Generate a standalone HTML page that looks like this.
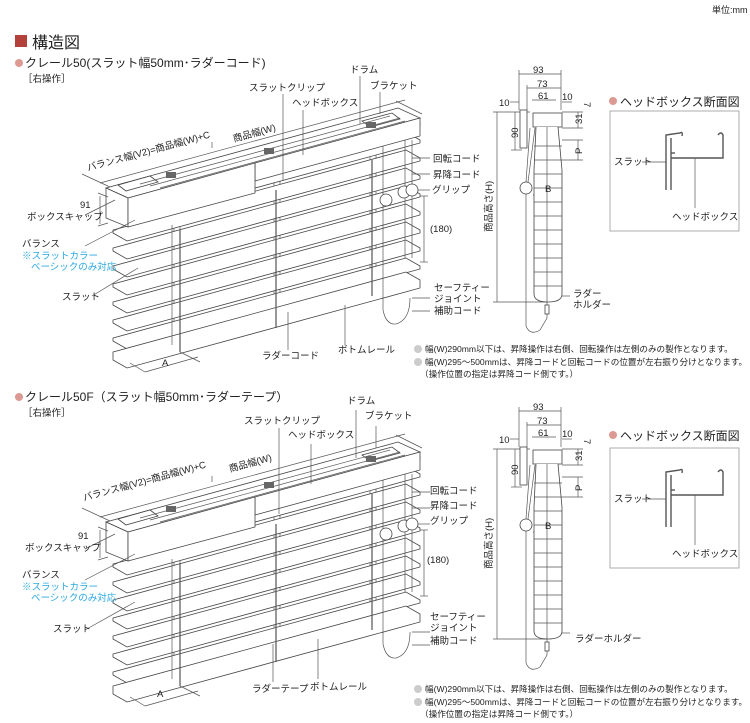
<!DOCTYPE html>
<html><head><meta charset="utf-8"><style>
body{margin:0;background:#fff;}
svg{display:block;font-family:"Liberation Sans","Noto Sans CJK JP",sans-serif;}
.t{font-size:9.5px;fill:#222}
.n{font-size:8.6px;fill:#222}
.s{fill:#fff;stroke:#444;stroke-width:0.8}
.l{stroke:#555;stroke-width:0.7;fill:none}
</style></head><body>
<svg width="750" height="723" viewBox="0 0 750 723" xmlns="http://www.w3.org/2000/svg">
<defs>
<g id="blind">
 <g class="l">
  <line x1="174" y1="215" x2="174" y2="345"/><line x1="180" y1="215" x2="180" y2="352"/>
  <line x1="274" y1="180" x2="274" y2="320"/><line x1="280" y1="180" x2="280" y2="326"/>
  <line x1="370" y1="150" x2="370" y2="290"/><line x1="376" y1="150" x2="376" y2="296"/>
 </g>
 <g class="s">
  <polygon points="113,194 406,114 420,122 420,125 127,205 113,197"/>
  <polygon points="113,212 406,132 420,140 420,143 127,223 113,215"/>
  <polygon points="113,230 406,150 420,158 420,161 127,241 113,233"/>
  <polygon points="113,248 406,168 420,176 420,179 127,259 113,251"/>
  <polygon points="113,266 406,186 420,194 420,197 127,277 113,269"/>
  <polygon points="113,284 406,204 420,212 420,215 127,295 113,287"/>
  <polygon points="113,302 406,222 420,230 420,233 127,313 113,305"/>
  <polygon points="113,320 406,240 420,248 420,251 127,331 113,323"/>
  <polygon points="113,338 406,258 420,266 420,269 127,349 113,341"/>
  <polygon points="113,352 406,272 420,280 420,288 127,368 113,360"/>
 </g>
 <g class="l" stroke="#444">
  <line x1="180" y1="230" x2="180" y2="352" stroke-width="1.2"/>
  <line x1="276" y1="190" x2="276" y2="328" stroke-width="1.2"/>
  <line x1="372" y1="160" x2="372" y2="296" stroke-width="1.2"/>
  <line x1="172" y1="225" x2="172" y2="345"/>
  <line x1="383" y1="140" x2="383" y2="310"/>
  <line x1="405" y1="140" x2="405" y2="258"/><line x1="412" y1="140" x2="412" y2="258"/>
  <path d="M383,310 Q386,325 396,324 Q410,320 410,298"/>
 </g>
 <circle cx="386" cy="200" r="6" class="s"/>
 <circle cx="404" cy="192" r="6" class="s"/>
 <circle cx="412" cy="190" r="6" class="s"/>
 <g class="s">
  <polygon points="106,188 398,108 420,118 128,198"/>
  <polygon points="255,163 420,118 420,136 255,181"/>
  <polygon points="106,188 128,198 128,227 106,218"/>
  <polygon points="128,198 255,163 255,193 128,227"/>
  <polygon points="118,185 150,176 158,182 126,191"/>
  <polygon points="362,121 392,113 400,119 370,127"/>
 </g>
 <g class="l"><line x1="140" y1="184" x2="390" y2="116"/><line x1="150" y1="186" x2="400" y2="118"/><line x1="160" y1="188" x2="405" y2="121"/></g>
 <rect x="166" y="172" width="10" height="6" fill="#666"/>
 <rect x="264" y="148" width="10" height="6" fill="#666"/>
 <rect x="366" y="122" width="10" height="6" fill="#666"/>
 <g class="l">
  <line x1="100" y1="183" x2="405" y2="100"/>
  <line x1="82" y1="174" x2="110" y2="187"/><line x1="212" y1="142" x2="212" y2="148"/>
  <line x1="396" y1="101" x2="422" y2="114"/>
  <line x1="98" y1="193" x2="108" y2="197"/><line x1="98" y1="226" x2="108" y2="223"/>
  <line x1="100" y1="196" x2="100" y2="224"/>
  <line x1="424" y1="196" x2="424" y2="262"/>
  <line x1="420" y1="196" x2="428" y2="196"/><line x1="420" y1="262" x2="428" y2="262"/>
  <line x1="130" y1="363" x2="145" y2="372"/><line x1="145" y1="372" x2="198" y2="357"/><line x1="180" y1="352" x2="200" y2="362"/>
 </g>
</g>
<g id="side">
 <g class="l">
  <line x1="519" y1="74" x2="561" y2="74"/><line x1="519" y1="70" x2="519" y2="110"/><line x1="561" y1="70" x2="561" y2="110"/>
  <line x1="527" y1="88" x2="561" y2="88"/><line x1="527" y1="85" x2="527" y2="110"/>
  <line x1="532" y1="100" x2="556" y2="100"/><line x1="510" y1="102" x2="519" y2="102"/><line x1="562" y1="102" x2="572" y2="102"/>
  <line x1="497" y1="112" x2="497" y2="302"/><line x1="493" y1="112" x2="530" y2="112"/><line x1="493" y1="302" x2="548" y2="302"/>
  <line x1="515" y1="112" x2="515" y2="150"/><line x1="511" y1="150" x2="522" y2="150"/>
  <line x1="578" y1="112" x2="578" y2="128"/><line x1="562" y1="112" x2="583" y2="112"/><line x1="562" y1="128" x2="583" y2="128"/>
  <line x1="578" y1="140" x2="578" y2="160"/><line x1="562" y1="140" x2="583" y2="140"/><line x1="562" y1="160" x2="583" y2="160"/>
  <line x1="533" y1="195" x2="547" y2="195"/>
  <line x1="555" y1="296" x2="570" y2="296"/>
 </g>
 <rect x="520" y="110" width="7" height="38" class="s"/>
 <rect x="533" y="113" width="29" height="14" class="s"/>
 <path d="M536,127 L534,170 L534,294 Q534,302 548,302 Q562,302 562,294 L562,170 L558,127" class="s"/>
 <g class="l">
  <line x1="547" y1="127" x2="547" y2="302"/>
  <line x1="534" y1="146" x2="562" y2="146"/><line x1="534" y1="160" x2="562" y2="160"/><line x1="534" y1="174" x2="562" y2="174"/>
  <line x1="534" y1="188" x2="562" y2="188"/><line x1="534" y1="202" x2="562" y2="202"/><line x1="534" y1="216" x2="562" y2="216"/>
  <line x1="534" y1="230" x2="562" y2="230"/><line x1="534" y1="244" x2="562" y2="244"/><line x1="534" y1="258" x2="562" y2="258"/>
  <line x1="534" y1="272" x2="562" y2="272"/><line x1="534" y1="286" x2="562" y2="286"/>
  <line x1="530" y1="128" x2="526" y2="182"/><line x1="535" y1="128" x2="528" y2="182"/>
  <path d="M526,194 L526,326 Q530,336 540,330 L547,318 L547,302"/>
 </g>
 <circle cx="526" cy="188" r="6" class="s"/>
 <rect x="545" y="305" width="4" height="9" class="s"/>
 <rect x="610" y="111" width="129" height="120" fill="none" stroke="#999" stroke-width="0.8"/>
 <g fill="none" stroke="#555" stroke-width="1.4">
  <path d="M666,190 L666,135 L680,133 Q683,131 682,136"/>
  <path d="M671,190 L671,138"/>
  <path d="M671,158 L723,158 L723,135 Q721,131 718,135"/>
  <path d="M671,153 L675,153"/>
 </g>
 <g class="l"><line x1="642" y1="162" x2="666" y2="162"/><line x1="695" y1="158" x2="695" y2="208"/></g>
</g>
</defs>

<text x="712" y="13" class="t" style="font-size:9px">単位:mm</text>
<rect x="15" y="35" width="12" height="12" fill="#b4403c"/>
<text x="32" y="48" style="font-size:16px" fill="#222">構造図</text>

<g>
<circle cx="19" cy="63" r="4" fill="#dd9a92"/>
<text x="25" y="67" style="font-size:12px" fill="#222">クレール50(スラット幅50mm･ラダーコード)</text>
<text x="23" y="82" class="t">［右操作］</text>
<use href="#blind"/>
<use href="#side"/>
<g class="l">
 <line x1="360" y1="76" x2="360" y2="124"/><line x1="380" y1="92" x2="380" y2="114"/>
 <line x1="283" y1="94" x2="283" y2="180"/><line x1="303" y1="110" x2="303" y2="155"/>
 <line x1="412" y1="158" x2="430" y2="158"/><line x1="412" y1="174" x2="430" y2="174"/><line x1="418" y1="190" x2="430" y2="190"/>
 <line x1="412" y1="298" x2="430" y2="298"/><line x1="412" y1="311" x2="430" y2="311"/>
 <line x1="288" y1="312" x2="288" y2="350"/><line x1="345" y1="305" x2="345" y2="345"/>
 <line x1="85" y1="215" x2="115" y2="200"/><line x1="85" y1="246" x2="135" y2="220"/><line x1="92" y1="296" x2="138" y2="268"/>
</g>
<text x="350" y="73" class="t">ドラム</text>
<text x="370" y="89" class="t">ブラケット</text>
<text x="249" y="91" class="t">スラットクリップ</text>
<text x="292" y="106" class="t">ヘッドボックス</text>
<text x="234" y="142" class="t" transform="rotate(-15.3 234 142)">商品幅(W)</text>
<text x="88" y="171" class="t" transform="rotate(-15.3 88 171)">バランス幅(V2)=商品幅(W)+C</text>
<text x="80" y="208" class="t">91</text>
<text x="27" y="220" class="t">ボックスキャップ</text>
<text x="22" y="247" class="t">バランス</text>
<text x="22" y="259" class="t" style="fill:#2aa8e0">※スラットカラー</text>
<text x="31" y="270" class="t" style="fill:#2aa8e0">ベーシックのみ対応</text>
<text x="62" y="300" class="t">スラット</text>
<text x="162" y="366" class="t">A</text>
<text x="433" y="162" class="t">回転コード</text>
<text x="433" y="178" class="t">昇降コード</text>
<text x="432" y="193" class="t">グリップ</text>
<text x="430" y="232" class="t">(180)</text>
<text x="434" y="291" class="t">セーフティー</text>
<text x="434" y="302" class="t">ジョイント</text>
<text x="434" y="314" class="t">補助コード</text>
<text x="262" y="359" class="t">ラダーコード</text>
<text x="338" y="353" class="t">ボトムレール</text>
<text x="533" y="73" class="t">93</text><text x="537" y="87" class="t">73</text><text x="538" y="99" class="t">61</text>
<text x="499" y="106" class="t">10</text><text x="562" y="100" class="t">10</text>
<text x="584" y="102" class="t" transform="rotate(90 584 102)">7</text>
<text x="505" y="137" class="t" transform="rotate(-90 512 131)">90</text>
<text x="574" y="124" class="t" transform="rotate(-90 578 120)">31</text>
<text x="574" y="154" class="t" transform="rotate(-90 578 150)">P</text>
<text x="545" y="192" class="t">B</text>
<text x="492" y="232" class="t" transform="rotate(-90 492 232)">商品高さ(H)</text>
<text x="573" y="297" class="t">ラダー</text><text x="573" y="308" class="t">ホルダー</text>
<circle cx="613" cy="101" r="4" fill="#dd9a92"/>
<text x="620" y="106" style="font-size:12px" fill="#222">ヘッドボックス断面図</text>
<text x="614" y="165" class="t">スラット</text>
<text x="672" y="220" class="t">ヘッドボックス</text>
<circle cx="418" cy="349" r="4" fill="#ccc"/><circle cx="418" cy="362" r="4" fill="#ccc"/>
<text x="425" y="352" class="n">幅(W)290mm以下は、昇降操作は右側、回転操作は左側のみの製作となります。</text>
<text x="425" y="365" class="n">幅(W)295～500mmは、昇降コードと回転コードの位置が左右振り分けとなります。</text>
<text x="420" y="377" class="n">（操作位置の指定は昇降コード側です。）</text>
</g>

<g transform="translate(0,334)">
<circle cx="19" cy="63" r="4" fill="#dd9a92"/>
<text x="25" y="67" style="font-size:12px" fill="#222">クレール50F（スラット幅50mm･ラダーテープ）</text>
<text x="23" y="82" class="t">［右操作］</text>
<use href="#blind"/>
<use href="#side" transform="translate(0,3)"/>
<g class="l">
 <line x1="356" y1="76" x2="356" y2="124"/><line x1="376" y1="92" x2="376" y2="114"/>
 <line x1="279" y1="94" x2="279" y2="180"/><line x1="311" y1="110" x2="311" y2="150"/>
 <line x1="412" y1="158" x2="430" y2="158"/><line x1="412" y1="174" x2="430" y2="174"/><line x1="418" y1="190" x2="430" y2="190"/>
 <line x1="412" y1="298" x2="430" y2="298"/><line x1="412" y1="311" x2="430" y2="311"/>
 <line x1="273" y1="310" x2="273" y2="348"/><line x1="318" y1="305" x2="318" y2="345"/>
 <line x1="85" y1="215" x2="115" y2="200"/><line x1="85" y1="246" x2="135" y2="220"/><line x1="85" y1="296" x2="135" y2="268"/>
</g>
<text x="347" y="70" class="t">ドラム</text>
<text x="365" y="85" class="t">ブラケット</text>
<text x="244" y="90" class="t">スラットクリップ</text>
<text x="288" y="104" class="t">ヘッドボックス</text>
<text x="230" y="138" class="t" transform="rotate(-15.3 230 138)">商品幅(W)</text>
<text x="84" y="167" class="t" transform="rotate(-15.3 84 167)">バランス幅(V2)=商品幅(W)+C</text>
<text x="78" y="205" class="t">91</text>
<text x="25" y="217" class="t">ボックスキャップ</text>
<text x="22" y="244" class="t">バランス</text>
<text x="22" y="256" class="t" style="fill:#2aa8e0">※スラットカラー</text>
<text x="31" y="267" class="t" style="fill:#2aa8e0">ベーシックのみ対応</text>
<text x="53" y="298" class="t">スラット</text>
<text x="157" y="363" class="t">A</text>
<text x="430" y="160" class="t">回転コード</text>
<text x="430" y="175" class="t">昇降コード</text>
<text x="430" y="190" class="t">グリップ</text>
<text x="427" y="229" class="t">(180)</text>
<text x="430" y="286" class="t">セーフティー</text>
<text x="430" y="297" class="t">ジョイント</text>
<text x="430" y="310" class="t">補助コード</text>
<text x="252" y="358" class="t">ラダーテープ</text>
<text x="310" y="356" class="t">ボトムレール</text>
<text x="533" y="76" class="t">93</text><text x="537" y="90" class="t">73</text><text x="538" y="102" class="t">61</text>
<text x="499" y="109" class="t">10</text><text x="562" y="103" class="t">10</text>
<text x="584" y="105" class="t" transform="rotate(90 584 105)">7</text>
<text x="505" y="140" class="t" transform="rotate(-90 512 134)">90</text>
<text x="574" y="127" class="t" transform="rotate(-90 578 123)">31</text>
<text x="574" y="157" class="t" transform="rotate(-90 578 153)">P</text>
<text x="545" y="195" class="t">B</text>
<text x="492" y="235" class="t" transform="rotate(-90 492 235)">商品高さ(H)</text>
<text x="575" y="308" class="t">ラダーホルダー</text>
<circle cx="613" cy="101" r="4" fill="#dd9a92"/>
<text x="620" y="106" style="font-size:12px" fill="#222">ヘッドボックス断面図</text>
<text x="614" y="168" class="t">スラット</text>
<text x="672" y="223" class="t">ヘッドボックス</text>
<circle cx="418" cy="355" r="4" fill="#ccc"/><circle cx="418" cy="368" r="4" fill="#ccc"/>
<text x="425" y="358" class="n">幅(W)290mm以下は、昇降操作は右側、回転操作は左側のみの製作となります。</text>
<text x="425" y="371" class="n">幅(W)295～500mmは、昇降コードと回転コードの位置が左右振り分けとなります。</text>
<text x="420" y="383" class="n">（操作位置の指定は昇降コード側です。）</text>
</g>
</svg>
</body></html>
